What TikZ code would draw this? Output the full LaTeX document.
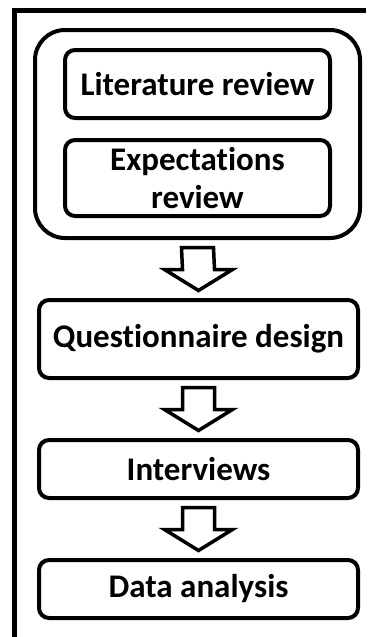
\documentclass[tikz,border=0pt]{standalone}
\usepackage{fontspec}
\setmainfont[Ligatures=NoCommon]{Carlito}
\usetikzlibrary{calc}
\begin{document}
\begin{tikzpicture}[x=1pt,y=-1pt,
  stagebox/.style={draw, line width=4pt, rounded corners=10pt, fill=white,
    font=\bfseries\fontsize{33}{38}\selectfont, align=center, inner sep=0pt},
  groupbox/.style={draw, line width=4pt, rounded corners=30pt, inner sep=0pt},
  flowarrow/.style={draw, line width=3.5pt, fill=white, line join=miter},
  frameline/.style={line width=4.5pt}]
\useasboundingbox (0,0) rectangle (369,637);

% outer frame (top and left edges)
\draw[frameline] (366,10.5) -- (14.5,10.5) -- (14.5,637);

% grouped review stages
\node[groupbox, minimum width=325pt, minimum height=208pt] (grp) at (197.5,134) {};
\node[stagebox, minimum width=265pt, minimum height=68pt] (lit) at (197.5,84) {Literature review};
\node[stagebox, minimum width=265pt, minimum height=76pt] (exp) at (197.5,178) {Expectations\\review};

% main sequence
\node[stagebox, minimum width=319pt, minimum height=78pt] (quest) at (198.5,339) {Questionnaire design};
\node[stagebox, minimum width=319pt, minimum height=58pt] (intv) at (198.5,469) {Interviews};
\node[stagebox, minimum width=319pt, minimum height=58pt] (data) at (198.5,589) {Data analysis};

% hollow block arrows between stages
\newcommand{\blockarrow}[2]{%
  \coordinate (s) at ($(#1.south)+(0,7.5)$);
  \coordinate (t) at ($(#2.north)+(0,-7.5)$);
  \draw[flowarrow]
    ($(s)+(-16,0)$) -- ($(t)+(-16,-21)$) -- ($(t)+(-34,-21)$) -- (t)
    -- ($(t)+(34,-21)$) -- ($(t)+(16,-21)$) -- ($(s)+(16,0)$) -- cycle;
}
\blockarrow{grp}{quest}
\blockarrow{quest}{intv}
\blockarrow{intv}{data}
\end{tikzpicture}
\end{document}
